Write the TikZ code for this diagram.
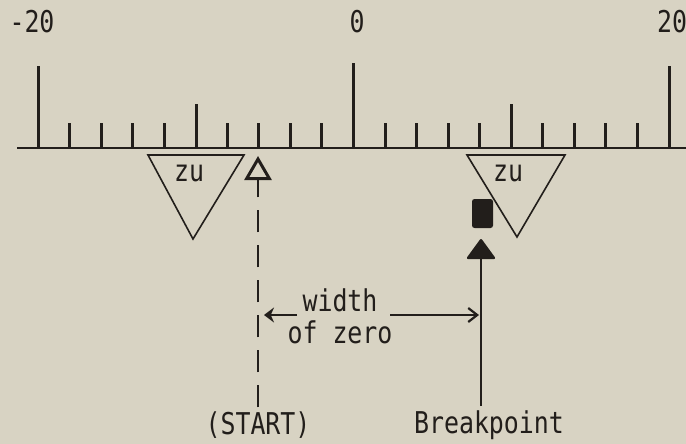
\documentclass[tikz,border=0pt]{standalone}
\usepackage{fontspec}
\newfontfamily\rulerfont[FakeStretch=0.83]{DejaVu Sans Mono}
\usetikzlibrary{arrows.meta, positioning}
\definecolor{paper}{HTML}{D8D3C3}
\definecolor{ink}{HTML}{221E1B}

\begin{document}
\begin{tikzpicture}[
    x=1pt, y=-1pt,
    lbl/.style      = {font=\rulerfont\fontsize{30}{32}\selectfont,
                       text=ink, inner sep=0pt},
    axisline/.style = {draw=ink, line width=2pt},
    tickmark/.style = {draw=ink, line width=3pt},
    zutri/.style    = {draw=ink, line width=1.6pt},
    startarr/.style = {draw=ink, line width=2.4pt,
                       dash pattern=on 22pt off 13pt,
                       -{Triangle[open, length=24pt, width=27pt, line width=3pt]}},
    bparr/.style    = {draw=ink, line width=2.4pt,
                       -{Triangle[round, length=21pt, width=30pt]}},
    dimarrL/.style  = {draw=ink, line width=2.4pt,
                       -{Stealth[length=10pt, width=15pt]}},
    dimarrR/.style  = {draw=ink, line width=2.2pt,
                       -{Straight Barb[length=9pt, width=14pt]}}
  ]

  \fill[paper] (0,0) rectangle (686,444);
  \useasboundingbox (0,0) rectangle (686,444);

  %% scale
  \node[lbl] (m20) at (32,22)  {-20};
  \node[lbl] (z0)  at (357,22) {0};
  \node[lbl] (p20) at (672,22) {20};

  \draw[axisline] (17,148) -- (686,148);
  \foreach \v in {-18,-16,-14,-12,-8,-6,-4,-2,2,4,6,8,12,14,16,18}
    \draw[tickmark] (353.5+\v*15.78,148) -- (353.5+\v*15.78,123);
  \draw[tickmark] (38,148)  -- (38,66);
  \draw[tickmark] (196,148) -- (196,104);
  \draw[tickmark] (353.5,148) -- (353.5,63);
  \draw[tickmark] (511,148) -- (511,104);
  \draw[tickmark] (669,148) -- (669,66);

  %% zu wedges
  \draw[zutri] (148,155) -- (244,155) -- (193,239) -- cycle;
  \node[lbl] (zuL) at (189,173) {zu};
  \draw[zutri] (467,155) -- (565,155) -- (517,237) -- cycle;
  \node[lbl] (zuR) at (508,173) {zu};

  %% start and breakpoint
  \node[lbl] (start) at (258,425) {(START)};
  \coordinate (starttip) at (258,156);
  \draw[startarr] (start.north) ++(0,-4) -- (starttip);

  \node[lbl] (bp) at (489,425) {Breakpoint};
  \coordinate (bptip) at (481,239);
  \draw[bparr] (481,406) -- (bptip);
  \node[fill=ink, rounded corners=2.5pt, inner sep=0pt,
        minimum width=21pt, minimum height=29pt] (bpmark) at (482.5,213.5) {};

  %% width of zero
  \node[lbl, align=center] (wz) at (340,316) {width\\of zero};
  \coordinate (wzL) at (297,315);
  \coordinate (wzR) at (390,315);
  \draw[dimarrL] (wzL) -- (264,315);
  \draw[dimarrR] (wzR) -- (479,315);

\end{tikzpicture}
\end{document}
